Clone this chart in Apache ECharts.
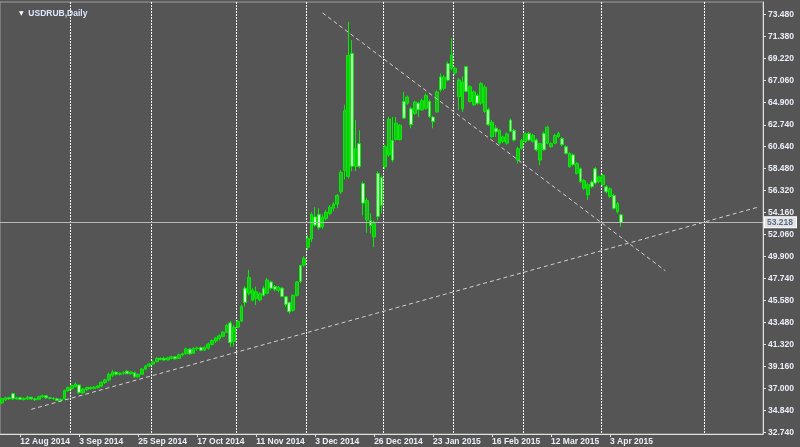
<!DOCTYPE html>
<html><head><meta charset="utf-8">
<script src="https://cdn.jsdelivr.net/npm/echarts@6/dist/echarts.min.js"></script>
<style>html,body{margin:0;padding:0;background:#555555;}#c{width:800px;height:447px;}</style>
</head><body><div id="c"></div>
<script>
// ---- calendar (trading days) ----
const firstDay = '2014-08-05';
const totalBars = 207;
const holidays = ['2014-11-04','2014-12-25','2014-12-31','2015-01-01','2015-01-02','2015-01-07','2015-02-23','2015-03-09'];
// ---- tick labels ----
const xTickLabels = ['2014-08-12','2014-09-03','2014-09-25','2014-10-17','2014-11-11','2014-12-03','2014-12-26','2015-01-23','2015-02-16','2015-03-12','2015-04-03'];
const periodSeparators = ['2014-09-01','2014-10-01','2014-11-03','2014-12-01','2015-01-05','2015-02-02','2015-03-02','2015-04-01','2015-05-11'];
const yTicks = [32.740,34.840,37.000,39.160,41.320,43.480,45.580,47.740,49.900,52.060,54.160,56.320,58.480,60.640,62.740,64.900,67.060,69.220,71.380,73.480];
// ---- OHLC (daily USDRUB) ----
const opens = [35.62,35.90,36.10,36.50,36.00,36.10,35.95,36.00,36.15,36.00,35.95,36.20,36.30,36.10,36.05,36.00,35.85,36.00,36.80,37.00,
37.20,37.35,36.60,36.90,37.10,37.00,37.10,37.25,37.60,37.85,38.30,38.60,38.40,38.50,38.70,38.45,38.55,38.15,38.40,38.90,
39.20,39.40,39.65,39.95,39.95,39.80,39.95,40.10,39.95,40.30,40.40,40.85,40.45,40.90,41.00,40.75,40.95,41.30,41.65,41.90,
42.10,42.50,43.40,41.60,43.00,43.60,46.80,46.30,45.63,45.80,45.65,46.80,46.30,47.40,46.95,46.60,46.80,45.95,45.40,44.65,
46.10,49.00,49.05,50.80,51.60,53.75,54.00,52.80,53.60,54.10,54.60,55.00,56.20,58.30,57.70,69.70,58.70,60.90,57.00,53.45,
53.40,51.80,58.00,57.60,58.65,59.80,61.20,61.30,61.30,65.00,64.85,64.30,63.85,64.85,64.20,64.35,65.00,63.50,64.00,67.40,
66.30,68.70,68.25,67.80,65.50,64.30,68.40,65.00,64.70,65.60,64.85,64.05,64.20,61.60,62.40,60.95,61.10,60.95,63.20,62.20,
59.30,60.45,61.10,61.90,61.10,61.25,59.30,61.90,60.95,60.60,60.95,61.60,61.40,60.60,58.65,59.80,58.00,58.45,56.55,55.90,
57.15,58.45,57.20,56.90,56.70,55.75,55.85,54.25,53.95];
const highs = [36.10,36.20,36.20,36.60,36.20,36.20,36.15,36.30,36.20,36.10,36.30,36.40,36.35,36.20,36.15,36.10,36.05,36.90,37.20,37.40,
37.60,37.40,37.05,37.20,37.20,37.25,37.35,37.70,37.95,38.55,38.80,38.70,38.60,38.70,38.80,38.70,38.65,38.50,39.00,39.30,
39.50,39.75,40.05,40.05,40.10,40.10,40.20,40.15,40.40,40.50,41.00,40.95,41.05,41.10,41.10,41.15,41.50,41.80,42.05,42.30,
42.60,43.30,43.60,43.20,43.70,45.20,47.00,48.60,46.80,46.95,46.40,47.00,47.80,47.55,47.10,47.00,46.90,46.00,45.50,46.20,
47.50,49.10,49.90,52.00,54.20,54.70,54.60,54.00,54.40,54.90,55.20,56.00,58.30,64.70,72.80,71.00,63.20,62.20,57.20,55.60,
54.10,53.40,58.20,57.80,60.80,63.50,63.50,63.50,62.80,65.95,65.60,64.50,65.10,65.00,65.30,65.80,65.20,63.60,66.10,67.75,
67.60,68.90,71.20,68.40,67.30,67.45,68.50,66.60,66.10,65.80,66.90,66.60,64.40,63.20,62.70,62.30,61.70,62.00,63.35,62.35,
60.60,61.35,62.00,62.05,61.85,61.40,61.00,62.05,62.65,61.05,61.85,62.05,61.55,60.75,60.05,59.95,59.10,58.60,57.45,57.10,
57.30,58.60,57.80,57.95,56.85,56.65,56.00,55.20,54.05];
const lows = [35.50,35.80,35.90,35.90,35.90,35.90,35.85,35.90,35.90,35.80,35.90,36.10,36.00,35.95,35.90,35.80,35.75,35.95,36.70,36.90,
37.10,36.50,36.50,36.75,36.90,36.95,37.00,37.15,37.45,37.70,38.15,38.30,38.30,38.35,38.40,38.35,38.05,38.05,38.35,38.80,
39.10,39.30,39.55,39.75,39.70,39.75,39.85,39.85,39.90,40.15,40.30,40.30,40.40,40.70,40.65,40.70,40.80,41.20,41.45,41.70,
42.00,42.45,41.05,41.10,42.90,43.50,45.00,46.10,45.50,45.15,45.50,46.00,46.20,46.60,46.50,46.40,45.90,45.00,44.30,44.50,
46.00,47.30,48.90,50.50,51.30,52.80,52.50,52.60,53.40,53.90,54.30,54.60,56.00,57.40,57.50,58.20,58.20,58.50,53.90,52.20,
52.10,50.80,53.40,54.10,58.40,59.60,59.10,61.20,61.20,63.30,64.70,62.40,63.70,63.50,64.10,64.20,63.40,62.40,63.90,65.95,
66.10,66.95,68.05,67.60,64.20,64.00,65.90,64.90,64.60,64.70,64.70,63.90,62.60,61.50,61.55,60.80,60.95,60.80,62.00,61.10,
58.97,60.30,60.95,61.15,61.00,60.15,58.80,60.20,60.85,60.50,60.85,61.45,60.65,59.85,58.55,58.70,57.90,57.05,56.40,55.40,
56.55,56.90,57.05,56.75,56.05,55.60,54.45,54.10,52.78];
const closes = [36.02,36.10,36.00,36.00,36.10,35.95,36.05,36.15,36.00,35.90,36.20,36.30,36.10,36.05,36.00,35.85,35.95,36.80,37.10,37.30,
37.45,36.60,36.95,37.10,37.00,37.15,37.25,37.60,37.85,38.40,38.60,38.40,38.50,38.55,38.45,38.60,38.15,38.40,38.90,39.20,
39.40,39.60,39.95,39.85,39.80,40.00,40.10,39.90,40.30,40.40,40.85,40.40,40.90,40.95,40.75,41.00,41.35,41.70,41.95,42.15,
42.50,43.15,41.50,43.00,43.55,45.00,45.40,47.85,46.60,46.45,46.25,46.10,47.60,46.80,46.70,46.90,46.00,45.20,44.50,46.10,
47.40,47.45,49.70,51.65,54.00,52.95,52.70,53.70,54.20,54.70,55.00,55.85,58.10,64.10,69.50,58.70,60.40,58.70,55.10,55.35,
52.90,53.10,53.80,54.90,60.60,63.30,59.30,62.90,62.70,63.40,65.45,62.75,64.95,64.20,65.10,65.60,63.55,63.05,65.95,66.15,
67.40,67.10,69.55,68.25,67.10,66.90,66.00,66.45,65.95,64.85,66.75,66.40,62.75,63.00,62.05,62.20,61.55,61.85,62.10,61.25,
60.40,61.20,61.85,61.25,61.70,60.30,60.90,60.30,62.50,60.90,61.70,61.90,60.80,59.95,59.95,58.85,58.95,57.20,57.30,56.90,
56.70,57.05,57.65,57.80,56.20,56.50,54.60,55.05,53.218];
const bidPrice = 53.218;
const trendLines = [[[87,73.66],[180,48.50]],[[8,34.98],[205,54.69]]];

// ---- build categories ----
function ymd(d){return d.getUTCFullYear()+'-'+String(d.getUTCMonth()+1).padStart(2,'0')+'-'+String(d.getUTCDate()).padStart(2,'0');}
const categories = [];
(function(){
  const d = new Date(firstDay+'T00:00:00Z');
  while(categories.length<totalBars){
    const wd=d.getUTCDay(); const s=ymd(d);
    if(wd!==0&&wd!==6&&holidays.indexOf(s)<0) categories.push(s);
    d.setUTCDate(d.getUTCDate()+1);
  }
})();
const candleData = opens.map((o,i)=>[o,closes[i],lows[i],highs[i]]);
const MON=['Jan','Feb','Mar','Apr','May','Jun','Jul','Aug','Sep','Oct','Nov','Dec'];
function fmtDate(s){const p=s.split('-');return (+p[2])+' '+MON[+p[1]-1]+' '+p[0];}
const labelSet=new Set(xTickLabels), sepSet=new Set(periodSeparators);
const txt='#eceef8', font='Liberation Sans';

const chart=echarts.init(document.getElementById('c'),null,{renderer:'canvas'});
chart.setOption({
  backgroundColor:'#555555',
  animation:false,
  title:{text:'{t|▼}  USDRUB,Daily',left:14,top:4,textStyle:{fontSize:8.5,color:'#dfe6ff',fontFamily:font,fontWeight:'bold',rich:{t:{fontSize:6,color:'#ffffff',fontFamily:'DejaVu Sans'}}}},
  grid:{left:0,right:37,top:2,bottom:13,show:true,borderColor:'#a0a0a0',borderWidth:1,containLabel:false},
  xAxis:{type:'category',data:categories,boundaryGap:true,
    axisLine:{show:true,lineStyle:{color:'#e0e0e0',width:1}},
    axisTick:{show:true,alignWithLabel:true,interval:(i,v)=>labelSet.has(v),length:3,lineStyle:{color:'#e0e0e0'}},
    axisLabel:{interval:(i,v)=>labelSet.has(v),formatter:v=>fmtDate(v),align:'left',margin:3,color:txt,fontSize:8.5,fontWeight:'bold',fontFamily:font},
    splitLine:{show:true,interval:(i,v)=>sepSet.has(v),lineStyle:{color:'#ffffff',type:[2,1],width:1}}},
  yAxis:{type:'value',position:'right',min:32.57,max:74.72,
    axisLine:{show:true,lineStyle:{color:'#e0e0e0',width:1}},
    axisTick:{show:true,customValues:yTicks,length:3,lineStyle:{color:'#e0e0e0'}},
    axisLabel:{customValues:yTicks,formatter:v=>v.toFixed(3),color:txt,fontSize:8.5,fontWeight:'bold',fontFamily:font,margin:5},
    splitLine:{show:false}},
  series:[{type:'candlestick',data:candleData,barWidth:3.3,
    itemStyle:{color:'#1cc01c',color0:'#c8ffc8',borderColor:'#00f000',borderColor0:'#00f000',borderWidth:1},
    markLine:{silent:true,symbol:['none','none'],animation:false,
      data:[
        [{coord:trendLines[0][0],lineStyle:{color:'#d0d0d0',type:[4,3],width:1},label:{show:false}},{coord:trendLines[0][1]}],
        [{coord:trendLines[1][0],lineStyle:{color:'#d0d0d0',type:[4,3],width:1},label:{show:false}},{coord:trendLines[1][1]}],
        {yAxis:bidPrice,lineStyle:{color:'#b8b8b8',type:'solid',width:1},
          label:{show:true,position:'end',distance:2,formatter:bidPrice.toFixed(3),color:'#5a6a8a',backgroundColor:'#e2e2e2',borderColor:'#ffffff',borderWidth:1,padding:[1,3,0,2],fontSize:8.5,fontWeight:'bold',fontFamily:font}}
      ]}
  }]
});
</script></body></html>
